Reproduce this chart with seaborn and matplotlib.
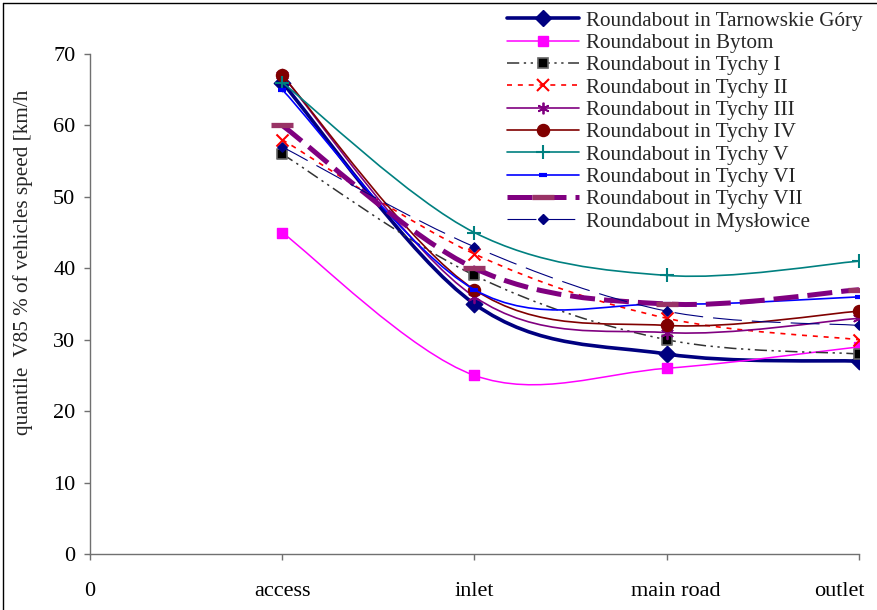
import numpy as np
import pandas as pd
import matplotlib
matplotlib.use("Agg")
import matplotlib.pyplot as plt
from matplotlib.path import Path
from matplotlib.patches import PathPatch
from matplotlib.lines import Line2D
import matplotlib.transforms as mtransforms
import seaborn as sns

# Measurement points along the roundabout approach
categories = ["access", "inlet", "main road", "outlet"]
tick_labels = ["0", "access", "inlet", "main road", "outlet"]

# V85 speed quantile [km/h] at each measurement point
tarnowskie = [66, 35, 28, 27]
bytom = [45, 25, 26, 29]
tychy_1 = [56, 39, 30, 28]
tychy_2 = [58, 42, 33, 30]
tychy_3 = [67, 36, 31, 33]
tychy_4 = [67, 37, 32, 34]
tychy_5 = [66, 45, 39, 41]
tychy_6 = [65, 37, 35, 36]
tychy_7 = [60, 40, 35, 37]
myslowice = [57, 43, 34, 32]

series_names = [
    "Roundabout in Tarnowskie Góry",
    "Roundabout in Bytom",
    "Roundabout in Tychy I",
    "Roundabout in Tychy II",
    "Roundabout in Tychy III",
    "Roundabout in Tychy IV",
    "Roundabout in Tychy V",
    "Roundabout in Tychy VI",
    "Roundabout in Tychy VII",
    "Roundabout in Mysłowice",
]
series_values = [tarnowskie, bytom, tychy_1, tychy_2, tychy_3,
                 tychy_4, tychy_5, tychy_6, tychy_7, myslowice]

# style per series: line colour, width, dash pattern, marker, size, face, edge, edge width
styles = [
    dict(color="#000080", lw=2.6, ls="-", marker="D", s=70, fc="#000080", ec="#000080", mew=1.0),
    dict(color="#FF00FF", lw=1.1, ls="-", marker="s", s=45, fc="#FF00FF", ec="#FF00FF", mew=1.0),
    dict(color="#333333", lw=1.1, ls=(0, (8, 3, 1.5, 3, 1.5, 3)), marker="s", s=42, fc="#000000", ec="#666666", mew=1.2),
    dict(color="#FF0000", lw=1.2, ls=(0, (3, 3.5)), marker="x", s=75, fc="#FF0000", ec="#FF0000", mew=1.5),
    dict(color="#800080", lw=1.2, ls="-", marker=(6, 2, 0), s=70, fc="#800080", ec="#800080", mew=1.3),
    dict(color="#800000", lw=1.2, ls="-", marker="o", s=75, fc="#800000", ec="#800000", mew=1.0),
    dict(color="#008080", lw=1.2, ls="-", marker="+", s=110, fc="#008080", ec="#008080", mew=1.5),
    dict(color="#0000FF", lw=1.2, ls="-", marker="_", s=30, fc="#0000FF", ec="#0000FF", mew=3.0),
    dict(color="#800080", lw=3.6, ls=(0, (5, 1.8)), marker="_", s=260, fc="#993366", ec="#993366", mew=3.8),
    dict(color="#000080", lw=0.8, ls=(0, (26, 9)), marker="D", s=22, fc="#000080", ec="#000080", mew=1.0),
]

rows = []
for name, vals in zip(series_names, series_values):
    for i, (cat, v) in enumerate(zip(categories, vals)):
        rows.append(dict(series=name, point=cat, pos=i + 1, speed=v))
df = pd.DataFrame(rows)


def smooth_path(xs, ys):
    """Cubic Bezier path through the points (spreadsheet-style smoothed line)."""
    pts = np.column_stack([xs, ys]).astype(float)
    n = len(pts)
    verts = [pts[0]]
    codes = [Path.MOVETO]
    for i in range(n - 1):
        p0 = pts[i - 1] if i > 0 else pts[i]
        p1 = pts[i]
        p2 = pts[i + 1]
        p3 = pts[i + 2] if i + 2 < n else pts[i + 1]
        c1 = p1 + (p2 - p0) / 6.0
        c2 = p2 - (p3 - p1) / 6.0
        verts += [c1, c2, p2]
        codes += [Path.CURVE4] * 3
    return Path(verts, codes)


sns.set_style("white")
plt.rcParams["font.family"] = ["Liberation Serif", "DejaVu Serif"]

W, H = 877, 610
fig = plt.figure(figsize=(W / 100, H / 100), dpi=100)
ax = fig.add_axes([90 / W, 1 - 554 / H, (859 - 90) / W, (554 - 54) / H])

handles = []
for k, (name, st) in enumerate(zip(series_names, styles)):
    sub = df[df["series"] == name]
    path = smooth_path(sub["pos"].values, sub["speed"].values)
    patch = PathPatch(path, facecolor="none", edgecolor=st["color"], lw=st["lw"],
                      linestyle=st["ls"], zorder=3 + 2 * k, capstyle="butt")
    ax.add_patch(patch)
    filled = st["marker"] in ("D", "s", "o")
    kw = dict(x=sub["pos"], y=sub["speed"], marker=st["marker"], s=st["s"], ax=ax,
              zorder=4 + 2 * k, legend=False)
    if filled:
        sns.scatterplot(color=st["fc"], edgecolor=st["ec"], linewidth=st["mew"], **kw)
    else:
        sns.scatterplot(color=st["fc"], linewidth=st["mew"], **kw)
    handles.append(Line2D([], [], color=st["color"], lw=st["lw"], linestyle=st["ls"],
                          marker=st["marker"], markersize=np.sqrt(st["s"]),
                          markerfacecolor=st["fc"], markeredgecolor=st["ec"],
                          markeredgewidth=st["mew"], dash_capstyle="butt"))

ax.set_xlim(0, 4)
ax.set_ylim(0, 70)
ax.set_xticks(range(5))
ax.set_xticklabels(tick_labels)
ax.set_yticks(range(0, 71, 10))
ax.set_xlabel("")
ax.set_ylabel("")
for side in ("top", "right"):
    ax.spines[side].set_visible(False)
for side in ("left", "bottom"):
    ax.spines[side].set_color("#707070")
    ax.spines[side].set_linewidth(1.0)
    ax.spines[side].set_zorder(30)
ax.tick_params(axis="both", which="both", direction="out", length=4.5, width=1.0,
               color="#707070", labelsize=16, labelcolor="black")
ax.tick_params(axis="y", pad=6, left=True)
ax.tick_params(axis="x", pad=16, bottom=True)

# nudge the last two category labels like the original layout
offsets = {3: 9, 4: -20}
for i, lab in enumerate(ax.get_xticklabels()):
    if i in offsets:
        lab.set_transform(lab.get_transform() +
                          mtransforms.ScaledTranslation(offsets[i] / 100, 0, fig.dpi_scale_trans))

fig.text(23 / W, 1 - 262 / H, "quantile  V85 % of vehicles speed [km/h", rotation=90,
         ha="center", va="center", fontsize=15.2)

fig.legend(handles, series_names, loc="upper left",
           bbox_to_anchor=(507 / W, 1 - 11 / H), bbox_transform=fig.transFigure,
           frameon=False, fontsize=15.2, handlelength=3.4, handletextpad=0.35,
           labelspacing=0.12, borderpad=0, borderaxespad=0)

# outer frame of the chart area
fig.add_artist(Line2D([3 / W, 3 / W], [0, 1 - 3 / H], transform=fig.transFigure,
                      color="black", lw=1.0))
fig.add_artist(Line2D([3 / W, 1], [1 - 3 / H, 1 - 3 / H], transform=fig.transFigure,
                      color="black", lw=1.0))

fig.savefig("out.png", dpi=100)
